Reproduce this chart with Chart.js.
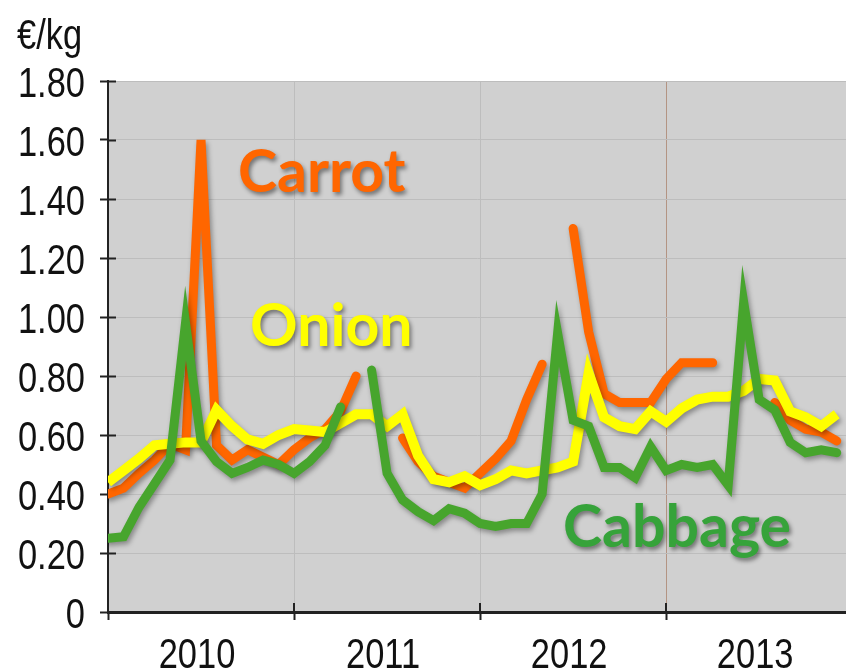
<!DOCTYPE html>
<html lang="en">
<head>
<meta charset="UTF-8">
<title>Vegetable prices 2010-2013</title>
<script src="https://cdn.jsdelivr.net/npm/chart.js"></script>
<style>
  html, body { margin: 0; padding: 0; background: #fff; }
  .wrap { position: relative; width: 846px; height: 671px; }
</style>
</head>
<body>
<div class="wrap"><canvas id="priceChart"></canvas></div>
<script>
const years = ['2010', '2011', '2012', '2013'];
const yTicks = [0, 0.2, 0.4, 0.6, 0.8, 1.0, 1.2, 1.4, 1.6, 1.8];

// monthly prices in €/kg, Jan 2010 .. Dec 2013 (null = no quote)
const carrot = [
  0.40, 0.42, 0.47, 0.515, 0.57, 0.55, 1.60, 0.565, 0.515, 0.55, 0.525, 0.50,
  0.55, 0.59, 0.62, 0.68, 0.80, null, null, 0.59, 0.51, 0.46, 0.44, 0.42,
  0.47, 0.52, 0.58, 0.72, 0.84, null, 1.30, 0.95, 0.74, 0.71, 0.71, 0.71,
  0.79, 0.845, 0.845, 0.845, null, null, null, 0.71, 0.65, 0.62, 0.61, 0.58
];
const onion = [
  0.44, 0.48, 0.52, 0.565, 0.57, 0.575, 0.575, 0.685, 0.63, 0.585, 0.57, 0.60,
  0.62, 0.615, 0.61, 0.64, 0.67, 0.67, 0.63, 0.67, 0.53, 0.45, 0.44, 0.46,
  0.43, 0.45, 0.48, 0.47, 0.48, 0.49, 0.51, 0.81, 0.66, 0.63, 0.62, 0.68,
  0.645, 0.69, 0.72, 0.73, 0.73, 0.75, 0.79, 0.785, 0.68, 0.66, 0.63, 0.67
];
const cabbage = [
  0.25, 0.255, 0.355, 0.435, 0.515, 0.98, 0.58, 0.51, 0.47, 0.49, 0.515, 0.50,
  0.47, 0.51, 0.565, 0.695, null, 0.82, 0.47, 0.38, 0.34, 0.31, 0.35, 0.335,
  0.30, 0.29, 0.30, 0.30, 0.40, 0.945, 0.65, 0.63, 0.49, 0.49, 0.455, 0.56,
  0.48, 0.50, 0.49, 0.50, 0.43, 1.05, 0.72, 0.685, 0.575, 0.54, 0.55, 0.54
];

const toPoints = arr => arr.map((v, i) => ({ x: i, y: v }));

// axis text: Arial-style face squeezed to a narrow cut
const axisFace = "42px 'Liberation Sans', Arial, sans-serif";
const narrow = 0.82;
const hidden = 'rgba(0,0,0,0)';

function narrowText(ctx, text, x, y, align) {
  const w = ctx.measureText(text).width * narrow;
  const left = align === 'right' ? x - w : align === 'center' ? x - w / 2 : x;
  ctx.save();
  ctx.scale(narrow, 1);
  ctx.fillText(text, left / narrow, y);
  ctx.restore();
}

// grey plot area
const plotBackground = {
  id: 'plotBackground',
  beforeDraw(chart) {
    const { ctx, chartArea: a } = chart;
    ctx.save();
    ctx.fillStyle = '#d0d0d0';
    ctx.fillRect(a.left, a.top, a.right - a.left, a.bottom - a.top);
    ctx.restore();
  }
};

// tick marks that cross into the plot area
const innerTicks = {
  id: 'innerTicks',
  beforeDatasetsDraw(chart) {
    const { ctx, chartArea: a, scales: { x, y } } = chart;
    ctx.save();
    ctx.strokeStyle = '#222';
    ctx.lineWidth = 2;
    ctx.beginPath();
    y.ticks.forEach(t => {
      const py = Math.round(y.getPixelForValue(t.value)) + 0.5;
      ctx.moveTo(a.left, py);
      ctx.lineTo(a.left + 8, py);
    });
    x.ticks.forEach(t => {
      if (t.value % 12 !== 0) return;
      const px = Math.round(x.getPixelForValue(t.value));
      ctx.moveTo(px, a.bottom);
      ctx.lineTo(px, a.bottom - 9);
    });
    ctx.stroke();
    ctx.restore();
  }
};

// soft drop shadow under the price lines
const lineShadow = {
  id: 'lineShadow',
  beforeDatasetsDraw(chart) {
    const ctx = chart.ctx;
    ctx.save();
    ctx.shadowColor = 'rgba(0, 0, 0, 0.35)';
    ctx.shadowBlur = 5;
    ctx.shadowOffsetX = 2;
    ctx.shadowOffsetY = 3;
  },
  afterDatasetsDraw(chart) {
    chart.ctx.restore();
  }
};

// tick labels, unit caption
const axisText = {
  id: 'axisText',
  afterDraw(chart) {
    const { ctx, scales: { x, y } } = chart;
    ctx.save();
    ctx.font = axisFace;
    ctx.fillStyle = '#111';
    ctx.textBaseline = 'alphabetic';
    ctx.textAlign = 'left';
    y.ticks.forEach(t => {
      const label = t.value === 0 ? '0' : t.value.toFixed(2);
      narrowText(ctx, label, y.right - 23, y.getPixelForValue(t.value) + 16, 'right');
    });
    x.ticks.forEach(t => {
      if (t.value % 12 !== 6) return;
      narrowText(ctx, years[(t.value - 6) / 12], x.getPixelForValue(t.value) - 4, x.top + 56, 'center');
    });
    narrowText(ctx, '€/kg', 17, 49, 'left');
    ctx.restore();
  }
};

// series names written in the plot
const textLabels = [
  { text: 'Carrot', color: '#ff6600', x: 238, y: 192 },
  { text: 'Onion', color: '#ffff00', x: 250, y: 346 },
  { text: 'Cabbage', color: '#36a33a', x: 563, y: 547 }
];
const seriesNames = {
  id: 'seriesNames',
  afterDraw(chart) {
    const ctx = chart.ctx;
    ctx.save();
    ctx.textBaseline = 'alphabetic';
    ctx.textAlign = 'left';
    ctx.font = 'bold 59px Lato, sans-serif';
    ctx.shadowColor = 'rgba(0, 0, 0, 0.45)';
    ctx.shadowBlur = 4;
    ctx.shadowOffsetX = 2;
    ctx.shadowOffsetY = 3;
    textLabels.forEach(l => {
      ctx.fillStyle = l.color;
      ctx.fillText(l.text, l.x, l.y);
    });
    ctx.restore();
  }
};

new Chart(document.getElementById('priceChart'), {
  type: 'line',
  data: {
    datasets: [
      { label: 'Cabbage', data: toPoints(cabbage), borderColor: '#47a52d', borderWidth: 9 },
      { label: 'Onion', data: toPoints(onion), borderColor: '#ffff00', borderWidth: 10, borderCapStyle: 'butt' },
      { label: 'Carrot', data: toPoints(carrot), borderColor: '#ff6600', borderWidth: 9 }
    ]
  },
  options: {
    responsive: true,
    maintainAspectRatio: false,
    animation: false,
    spanGaps: false,
    layout: { padding: { top: 81, right: 0, bottom: 0, left: 0 } },
    elements: {
      point: { radius: 0 },
      line: { tension: 0, borderCapStyle: 'round', borderJoinStyle: 'miter', fill: false }
    },
    plugins: {
      legend: { display: false },
      tooltip: { enabled: false }
    },
    scales: {
      x: {
        type: 'linear',
        min: 0,
        max: 47.6,
        afterBuildTicks(scale) {
          scale.ticks = [0, 6, 12, 18, 24, 30, 36, 42].map(v => ({ value: v }));
        },
        afterFit(scale) { scale.height = 59; },
        ticks: {
          autoSkip: false,
          maxRotation: 0,
          color: hidden,
          font: { size: 20 },
          callback: v => (v % 12 === 6 ? years[(v - 6) / 12] : '')
        },
        grid: {
          color: c => {
            const v = c.tick ? c.tick.value : 0;
            if (v === 0 || v % 12 !== 0) return hidden;
            return v === 36 ? '#b39483' : '#bdbdbd';
          },
          tickColor: c => (c.tick && c.tick.value % 12 === 0 ? '#222' : hidden),
          tickLength: 8,
          tickWidth: 2,
          lineWidth: 1
        },
        border: { color: '#222', width: 3 }
      },
      y: {
        min: 0,
        max: 1.8,
        afterBuildTicks(scale) {
          scale.ticks = yTicks.map(v => ({ value: v }));
        },
        afterFit(scale) { scale.width = 108; },
        ticks: {
          color: hidden,
          font: { size: 20 },
          callback: v => (v === 0 ? '0' : v.toFixed(2))
        },
        grid: {
          color: '#bdbdbd',
          lineWidth: 1,
          tickColor: '#222',
          tickLength: 8,
          tickWidth: 2
        },
        border: { color: '#222', width: 2 }
      }
    }
  },
  plugins: [plotBackground, innerTicks, lineShadow, axisText, seriesNames]
});
</script>
</body>
</html>
